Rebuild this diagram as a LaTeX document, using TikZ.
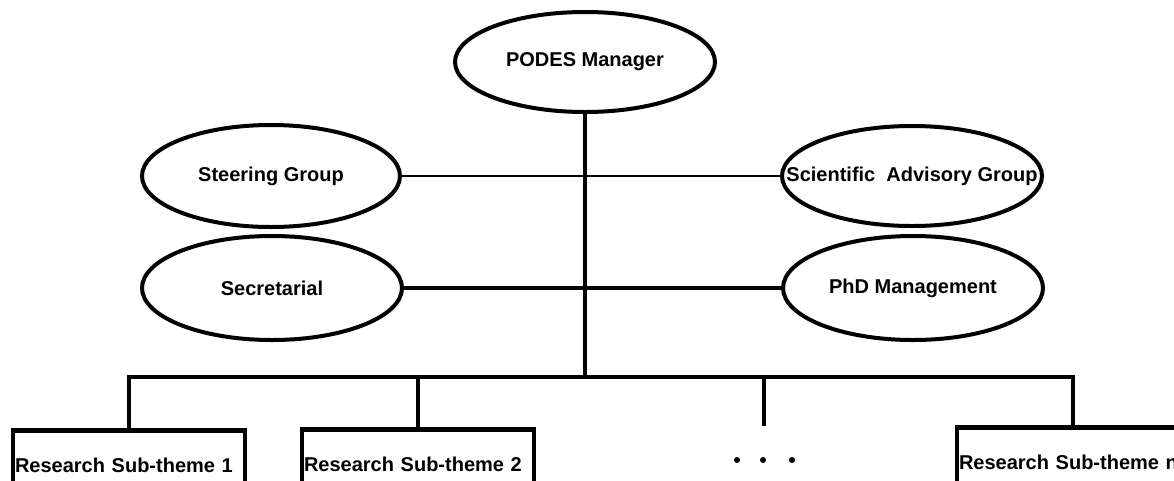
\documentclass[tikz,border=0pt]{standalone}
\usepackage{fontspec}
\setmainfont{Liberation Sans}
\usetikzlibrary{shapes.geometric}
\begin{document}
\begin{tikzpicture}[x=1pt,y=-1pt,
  labelfont/.style={font=\bfseries\fontsize{20}{22}\selectfont},
  oval/.style={ellipse,draw,line width=4pt,inner sep=0pt,labelfont},
  subbox/.style={rectangle,draw,line width=4.5pt,anchor=north,text width=228pt,
    inner xsep=2pt,inner ysep=0pt,minimum height=70pt,align=left,labelfont},
  link/.style={line width=3.2pt},
  thinlink/.style={line width=2pt}]
\useasboundingbox (0,0) rectangle (1174,480);
\clip (0,0) rectangle (1174,480);
\node[oval,minimum width=260pt,minimum height=100pt] (mgr) at (585,62) {\makebox[0pt]{PODES Manager}};
\node[oval,minimum width=258pt,minimum height=102pt] (steer) at (271,176) {\makebox[0pt]{Steering Group}};
\node[oval,minimum width=260pt,minimum height=100pt] (sci) at (912,176) {\makebox[0pt]{Scientific\ \ Advisory Group}};
\node[oval,minimum width=260pt,minimum height=104pt] (sec) at (272,288) {\makebox[0pt]{Secretarial}};
\node[oval,minimum width=260pt,minimum height=104pt] (phd) at (913,288) {\makebox[0pt]{PhD Management}};
\coordinate (j) at (585,377);
\draw[link] (mgr.south) -- (j);
\draw[thinlink] (steer.east) -- (sci.west);
\draw[link] (sec.east) -- (phd.west);
\node[subbox] (r1) at (129,428) {Research Sub-theme 1};
\node[subbox] (r2) at (418,427) {Research Sub-theme 2};
\node[subbox] (rn) at (1073,425) {Research Sub-theme n};
\coordinate (dt) at (764,426);
\draw[link] (r1.north) -- (r1.north |- j) -- (rn.north |- j) -- (rn.north);
\draw[link] (r2.north) -- (r2.north |- j);
\draw[link] (dt) -- (dt |- j);
\fill (737,460) circle (3pt);
\fill (763,460) circle (3pt);
\fill (792,460) circle (3pt);
\end{tikzpicture}
\end{document}
